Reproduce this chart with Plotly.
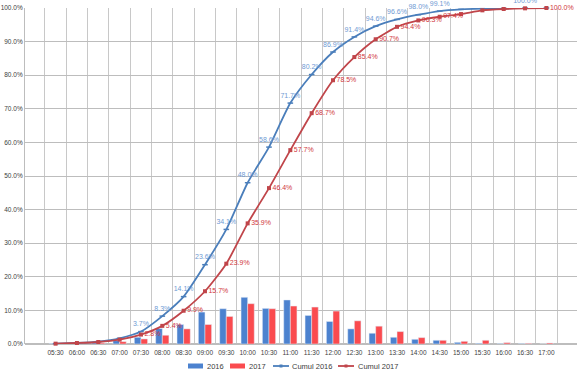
import plotly.graph_objects as go

times = ["05:30", "06:00", "06:30", "07:00", "07:30", "08:00", "08:30", "09:00",
         "09:30", "10:00", "10:30", "11:00", "11:30", "12:00", "12:30", "13:00",
         "13:30", "14:00", "14:30", "15:00", "15:30", "16:00", "16:30", "17:00"]

pct_2016 = [0.1, 0.2, 0.4, 1.0, 2.0, 4.6, 5.8, 9.5, 10.5, 13.9, 10.6, 13.1,
            8.5, 6.7, 4.5, 3.2, 2.0, 1.4, 1.1, 0.5, 0.2, 0.1, 0.1, 0.0]
pct_2017 = [0.1, 0.2, 0.3, 0.7, 1.5, 2.6, 4.5, 5.8, 8.2, 12.0, 10.5, 11.3,
            11.0, 9.8, 6.9, 5.3, 3.7, 1.9, 1.1, 0.8, 1.1, 0.4, 0.2, 0.3]

cumul_2016 = [0.1, 0.3, 0.7, 1.7, 3.7, 8.3, 14.1, 23.6, 34.1, 48.0, 58.6, 71.7,
              80.2, 86.9, 91.4, 94.6, 96.6, 98.0, 99.1, 99.6, 99.8, 99.9, 100.0, 100.0]
cumul_2017 = [0.1, 0.3, 0.6, 1.3, 2.8, 5.4, 9.9, 15.7, 23.9, 35.9, 46.4, 57.7,
              68.7, 78.5, 85.4, 90.7, 94.4, 96.3, 97.4, 98.2, 99.3, 99.7, 99.9, 100.0]

series_names = ["2016", "2017", "Cumul 2016", "Cumul 2017"]

labelled_2016 = list(range(4, 19)) + [22]
labelled_2017 = list(range(4, 19)) + [23]

text_2016 = [f"{v:.1f}%" if i in labelled_2016 else "" for i, v in enumerate(cumul_2016)]
text_2017 = [f"{v:.1f}%" if i in labelled_2017 else "" for i, v in enumerate(cumul_2017)]

FONT = "Liberation Sans"
BLUE_BAR = "#4C82CF"
RED_BAR = "#FA4B4F"
BLUE_LINE = "#4A7EBB"
RED_LINE = "#C0454A"

W, H = 579, 371
ML, MR, MT, MB = 25, 2, 8, 27
PW, PH = W - ML - MR, H - MT - MB


def px_x(px):
    return (px - ML) / PW


def px_y(py):
    return (H - MB - py) / PH


fig = go.Figure()
fig.add_trace(go.Bar(x=times, y=pct_2016, name=series_names[0], marker_color=BLUE_BAR))
fig.add_trace(go.Bar(x=times, y=pct_2017, name=series_names[1], marker_color=RED_BAR))
fig.add_trace(go.Scatter(
    x=times, y=cumul_2016, name=series_names[2], mode="lines+markers+text",
    line=dict(color=BLUE_LINE, width=1.8, shape="spline", smoothing=0.6),
    marker=dict(size=4, color=BLUE_LINE, symbol="line-ew-open", line=dict(width=1.5, color=BLUE_LINE)),
    text=text_2016, textposition="top center",
    textfont=dict(family=FONT, size=7, color="#6F9AD3"), cliponaxis=False))
fig.add_trace(go.Scatter(
    x=times, y=cumul_2017, name=series_names[3], mode="lines+markers+text",
    line=dict(color=RED_LINE, width=1.8, shape="spline", smoothing=0.6),
    marker=dict(size=4, color=RED_LINE, symbol="square"),
    text=text_2017, textposition="middle right",
    textfont=dict(family=FONT, size=7, color="#D0363C"), cliponaxis=False))

# Manual legend (compact, as in the reference)
LEG_Y = 366
shapes = []
annotations = []
legend_items = [
    (series_names[0], "bar", BLUE_BAR, 188, 205),
    (series_names[1], "bar", RED_BAR, 230, 247),
    (series_names[2], "line", BLUE_LINE, 273, 290),
    (series_names[3], "line", RED_LINE, 338, 356),
]
for name, kind, color, sx, tx in legend_items:
    if kind == "bar":
        shapes.append(dict(type="rect", xref="paper", yref="paper",
                           x0=px_x(sx), x1=px_x(sx + 15),
                           y0=px_y(LEG_Y + 2.5), y1=px_y(LEG_Y - 2.5),
                           fillcolor=color, line=dict(width=0)))
    else:
        shapes.append(dict(type="line", xref="paper", yref="paper",
                           x0=px_x(sx), x1=px_x(sx + 16),
                           y0=px_y(LEG_Y), y1=px_y(LEG_Y),
                           line=dict(color=color, width=1.8)))
        shapes.append(dict(type="rect", xref="paper", yref="paper",
                           x0=px_x(sx + 6.5), x1=px_x(sx + 9.5),
                           y0=px_y(LEG_Y + 1.5), y1=px_y(LEG_Y - 1.5),
                           fillcolor=color, line=dict(width=0)))
    annotations.append(dict(text=name, xref="paper", yref="paper",
                            x=px_x(tx), y=px_y(LEG_Y), xanchor="left", yanchor="middle",
                            showarrow=False,
                            font=dict(family=FONT, size=7.5, color="#404040")))

fig.update_layout(
    width=W, height=H,
    margin=dict(l=ML, r=MR, t=MT, b=MB, autoexpand=False),
    paper_bgcolor="white", plot_bgcolor="white",
    barmode="group", bargap=0.38, bargroupgap=0,
    font=dict(family=FONT, size=7, color="#404040"),
    showlegend=False,
    shapes=shapes, annotations=annotations,
    xaxis=dict(type="category", tickson="boundaries", showgrid=True,
               gridcolor="#C8C8C8", gridwidth=1, ticks="", tickangle=0,
               ticklabelstandoff=3,
               tickfont=dict(family=FONT, size=6.5, color="#404040"),
               showline=False, zeroline=False, automargin=False),
    yaxis=dict(range=[0, 100], dtick=10, tickformat=".1f", ticksuffix="%",
               showgrid=True, gridcolor="#BDBDBD", gridwidth=1,
               showline=True, linecolor="#BDBDBD", zeroline=True, zerolinecolor="#BDBDBD",
               tickfont=dict(family=FONT, size=6.5, color="#404040"), ticks="",
               automargin=False),
)

fig.write_html("out.html", config={"displayModeBar": False},
               post_script="document.body.style.margin='0';document.body.style.padding='0';")
